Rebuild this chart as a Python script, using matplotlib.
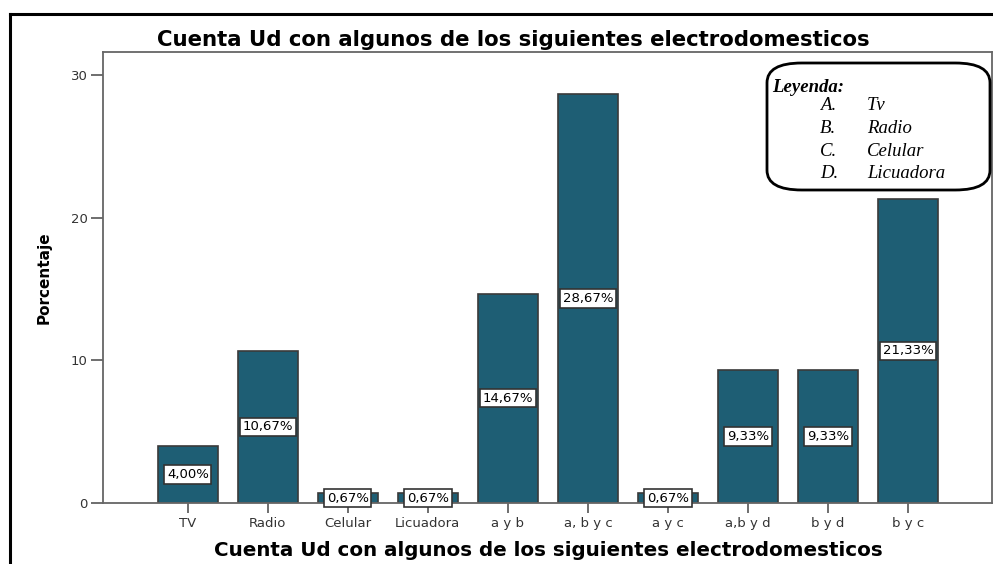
import numpy as np
import matplotlib.pyplot as plt
from matplotlib.patches import FancyBboxPatch
from matplotlib.lines import Line2D

# datos
categorias = ['TV', 'Radio', 'Celular', 'Licuadora', 'a y b', 'a, b y c',
              'a y c', 'a,b y d', 'b y d', 'b y c']
porcentajes = [4.00, 10.67, 0.67, 0.67, 14.67, 28.67, 0.67, 9.33, 9.33, 21.33]
etiquetas = ['4,00%', '10,67%', '0,67%', '0,67%', '14,67%', '28,67%',
             '0,67%', '9,33%', '9,33%', '21,33%']
leyenda_letras = ['A.', 'B.', 'C.', 'D.']
leyenda_nombres = ['Tv', 'Radio', 'Celular', 'Licuadora']

titulo = 'Cuenta Ud con algunos de los siguientes electrodomesticos'

W, H = 993, 564
fig = plt.figure(figsize=(W / 100, H / 100), dpi=100)
ax = fig.add_axes([103 / W, 1 - 503 / H, (992 - 103) / W, (503 - 52) / H])

x = np.arange(len(categorias))
ax.bar(x, porcentajes, width=0.75, color='#1e5e74', edgecolor='#3a3a3a', linewidth=1.2, zorder=2)

# etiquetas con recuadro en la mitad de cada barra
for xi, v, t in zip(x, porcentajes, etiquetas):
    ax.text(xi, v / 2, t, ha='center', va='center', fontsize=9.5, family='DejaVu Sans',
            color='black', zorder=3,
            bbox=dict(boxstyle='square,pad=0.2', fc='white', ec='#333333', lw=1.2))

ax.set_xlim(-1.06, 10.05)
ax.set_ylim(0, 31.6)
ax.set_yticks([0, 10, 20, 30])
ax.set_xticks(x)
ax.set_xticklabels(categorias)
ax.tick_params(axis='both', direction='out', colors='#555555', labelcolor='#333333',
               labelsize=9.5, width=1.2)
ax.tick_params(axis='y', length=9, pad=2)
ax.tick_params(axis='x', length=7, pad=3)
for lab in ax.get_xticklabels() + ax.get_yticklabels():
    lab.set_family('DejaVu Sans')
for s in ax.spines.values():
    s.set_color('#666666')
    s.set_linewidth(1.3)

ax.set_xlabel(titulo, fontsize=14.3, fontweight='bold', family='DejaVu Sans')
ax.xaxis.set_label_coords((548 - 103) / (992 - 103), -0.085)
ax.set_ylabel('Porcentaje', fontsize=11, fontweight='bold', family='Liberation Sans Narrow')
ax.yaxis.set_label_coords((52 - 103) / (992 - 103), (503 - 278) / (503 - 52))

fig.text(513 / W, 1 - 40 / H, titulo, ha='center', va='center', fontsize=15.3,
         fontweight='bold', family='DejaVu Sans')

# marco exterior
fig.add_artist(Line2D([10 / W, 10 / W], [0, 1 - 14 / H], color='black', lw=2.2))
fig.add_artist(Line2D([10 / W, 1], [1 - 14 / H, 1 - 14 / H], color='black', lw=2.2))

# cuadro de leyenda
caja = FancyBboxPatch((767 / W, 1 - 190 / H), (990 - 767) / W, (190 - 63) / H,
                      boxstyle='round,pad=0,rounding_size=0.035',
                      transform=fig.transFigure, fc='white', ec='black', lw=2, zorder=5)
fig.add_artist(caja)
fig.text(772 / W, 1 - 87 / H, 'Leyenda:', fontsize=13.5, fontweight='bold', style='italic',
         family='Liberation Serif', va='center', zorder=6)
for i, (l, n) in enumerate(zip(leyenda_letras, leyenda_nombres)):
    yy = 1 - (106 + i * 22.5) / H
    fig.text(820 / W, yy, l, fontsize=13.5, style='italic', family='Liberation Serif',
             va='center', zorder=6)
    fig.text(867 / W, yy, n, fontsize=13.5, style='italic', family='Liberation Serif',
             va='center', zorder=6)

fig.savefig('out.png', dpi=100)
